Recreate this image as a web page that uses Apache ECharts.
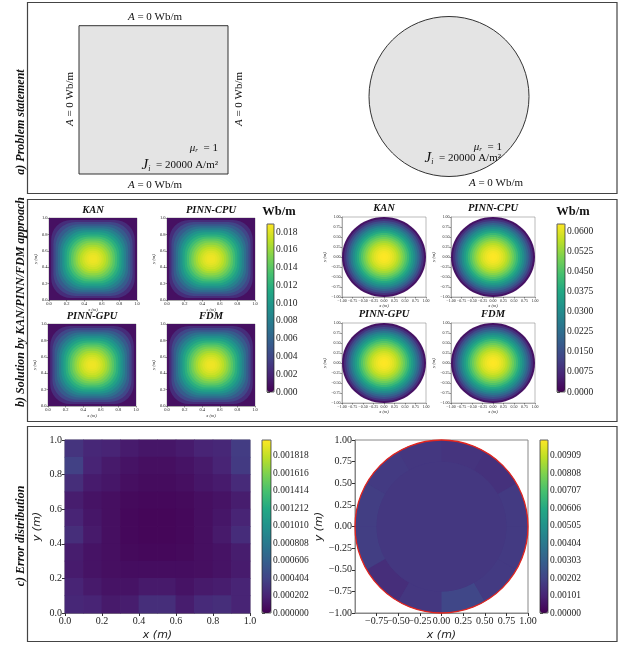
<!DOCTYPE html>
<html>
<head>
<meta charset="utf-8">
<script src="https://cdn.jsdelivr.net/npm/echarts@6/dist/echarts.min.js"></script>
<style>
  html, body { margin: 0; background: #fff; }
  #chart { width: 633px; height: 645px; }
</style>
</head>
<body>
<div id="chart"></div>
<script>
// ---- data ----
const methods = ['KAN', 'PINN-CPU', 'PINN-GPU', 'FDM'];

// square domain: nested contour bands (half size from centre, corner rounding, A inside) in m / Wb/m
const sqHalf = [0.5, 0.475, 0.45, 0.425, 0.4, 0.375, 0.35, 0.325, 0.3, 0.275, 0.25, 0.225, 0.2, 0.175, 0.15, 0.125, 0.1, 0.075, 0.05, 0.025];
const sqRound = [0, 0.24, 0.27, 0.28, 0.29, 0.285, 0.277, 0.267, 0.255, 0.242, 0.225, 0.209, 0.19, 0.17, 0.15, 0.125, 0.1, 0.075, 0.05, 0.025];
const sqPot = [0.00081, 0.00242, 0.00398, 0.00546, 0.0069, 0.00827, 0.00956, 0.01079, 0.01191, 0.01299, 0.01395, 0.01484, 0.01563, 0.01634, 0.01695, 0.01746, 0.01787, 0.01819, 0.01839, 0.01848];

// circular domain: nested discs (radius, A inside)
const ciRadius = [1, 0.95, 0.9, 0.85, 0.8, 0.75, 0.7, 0.65, 0.6, 0.55, 0.5, 0.45, 0.4, 0.35, 0.3, 0.25, 0.2, 0.15, 0.1, 0.05];
const ciPot = [0.0031, 0.00907, 0.01472, 0.02006, 0.02508, 0.02979, 0.03419, 0.03827, 0.04204, 0.04549, 0.04863, 0.05146, 0.05397, 0.05617, 0.05805, 0.05962, 0.06088, 0.06182, 0.06245, 0.06276];

// square error, 10x10 cells, rows listed top (y=0.95) to bottom (y=0.05)
const errCells = [0.05, 0.15, 0.25, 0.35, 0.45, 0.55, 0.65, 0.75, 0.85, 0.95];
const sqErr = [
  [0.0003, 0.00022, 0.0002, 0.00015, 0.00012, 0.00012, 0.00015, 0.0002, 0.00022, 0.00035],
  [0.00038, 0.0002, 0.00014, 0.0001, 0.00008, 0.00008, 0.0001, 0.00014, 0.0002, 0.00034],
  [0.00026, 0.00015, 0.00012, 0.00008, 0.00006, 0.00006, 0.00008, 0.00012, 0.00015, 0.00024],
  [0.00016, 0.0001, 0.00008, 0.00005, 0.00004, 0.00004, 0.00005, 0.00008, 0.0001, 0.00016],
  [0.0002, 0.00012, 0.00008, 0.00004, 0.00003, 0.00003, 0.00004, 0.00008, 0.00012, 0.0002],
  [0.00026, 0.00014, 0.00008, 0.00004, 0.00003, 0.00003, 0.00004, 0.00008, 0.00014, 0.00025],
  [0.00016, 0.0001, 0.00008, 0.00005, 0.00004, 0.00004, 0.00005, 0.00008, 0.0001, 0.00016],
  [0.00015, 0.0001, 0.00008, 0.00007, 0.00007, 0.00007, 0.00007, 0.00008, 0.0001, 0.00015],
  [0.0002, 0.00014, 0.0001, 0.0001, 0.00014, 0.00014, 0.0001, 0.00014, 0.00016, 0.0002],
  [0.00022, 0.0002, 0.00014, 0.00016, 0.00026, 0.00026, 0.00016, 0.00024, 0.00026, 0.0002]
];

// circular error: inner disc + 12 outer sectors (degrees, counter-clockwise from +x)
const ciErrRings = [0, 0.75, 1];
const ciErrInner = 0.0016;
const ciErrAngles = [0, 30, 60, 90, 120, 150, 180, 210, 240, 270, 300, 330, 360];
const ciErrOuter = [0.0017, 0.0014, 0.0015, 0.0016, 0.0017, 0.0018, 0.0018, 0.0013, 0.0016, 0.0021, 0.0017, 0.0017];

// tick labels
const sqTicks = [0, 0.2, 0.4, 0.6, 0.8, 1];
const ciTicks = [-1, -0.75, -0.5, -0.25, 0, 0.25, 0.5, 0.75, 1];
const sqSolTicks = [0, 0.002, 0.004, 0.006, 0.008, 0.01, 0.012, 0.014, 0.016, 0.018];
const ciSolTicks = [0, 0.0075, 0.015, 0.0225, 0.03, 0.0375, 0.045, 0.0525, 0.06];
const sqErrTicks = [0, 0.000202, 0.000404, 0.000606, 0.000808, 0.00101, 0.001212, 0.001414, 0.001616, 0.001818];
const ciErrTicks = [0, 0.00101, 0.00202, 0.00303, 0.00404, 0.00505, 0.00606, 0.00707, 0.00808, 0.00909];
const sqSolMax = 0.0189, ciSolMax = 0.0627, sqErrMax = 0.002, ciErrMax = 0.01;

// ---- drawing ----
const viridis = ['#440154', '#482475', '#414487', '#355f8d', '#2a788e', '#21918c', '#22a884', '#44bf70', '#7ad151', '#bddf26', '#fde725'];
const serif = 'Liberation Serif';
const sans = 'DejaVu Sans';

const chart = echarts.init(document.getElementById('chart'));

const grid = [], xAxis = [], yAxis = [], series = [], visualMap = [];

const fmt = d => v => (v < 0 ? '\u2212' : '') + Math.abs(v).toFixed(d);

function frame(box, ticks, dec, st) {
  const gi = grid.push({ left: box.left, top: box.top, width: box.width, height: box.height,
    show: true, borderColor: st.line, borderWidth: st.lw, backgroundColor: 'transparent' }) - 1;
  const ax = dim => ({
    gridIndex: gi, type: 'value', min: ticks[0], max: ticks[ticks.length - 1],
    name: dim + ' (m)', nameLocation: 'middle', nameGap: dim === 'x' ? st.xGap : st.yGap,
    nameTextStyle: { fontFamily: st.nameFont, fontStyle: 'italic', fontSize: st.nameSize, color: '#222' },
    axisLine: { show: true, onZero: false, lineStyle: { color: st.line, width: st.lw } },
    axisTick: { show: true, customValues: ticks, length: st.tick, lineStyle: { color: '#333', width: st.lw } },
    axisLabel: { show: true, customValues: ticks, formatter: fmt(dec), fontFamily: serif, fontSize: st.fs,
      color: '#222', margin: st.margin, hideOverlap: false },
    splitLine: { show: false }
  });
  xAxis.push(ax('x'));
  yAxis.push(ax('y'));
  return gi;
}

function renderSquare(params, api) {
  const h = api.value(0), rc = api.value(1);
  const a = api.coord([0.5 - h, 0.5 + h]);
  const s = api.size([2 * h, 2 * h]);
  const r = api.size([rc, rc]);
  return { type: 'rect', shape: { x: a[0], y: a[1], width: s[0], height: s[1], r: Math.min(r[0], r[1]) },
    style: { fill: api.visual('color') } };
}

function renderDisc(params, api) {
  const c = api.coord([0, 0]);
  const s = api.size([api.value(0), api.value(0)]);
  return { type: 'ellipse', shape: { cx: c[0], cy: c[1], rx: s[0], ry: s[1] }, style: { fill: api.visual('color') } };
}

const cellStep = errCells[1] - errCells[0];
function renderCell(params, api) {
  const a = api.coord([api.value(0) - cellStep / 2, api.value(1) + cellStep / 2]);
  const s = api.size([cellStep, cellStep]);
  // slight overlap hides anti-aliasing seams between neighbouring cells
  return { type: 'rect', shape: { x: a[0] - 0.4, y: a[1] - 0.4, width: s[0] + 0.8, height: s[1] + 0.8 },
    style: { fill: api.visual('color') } };
}

function renderSector(params, api) {
  const c = api.coord([0, 0]);
  const s = api.size([1, 1]);
  const R = Math.min(s[0], s[1]);
  return { type: 'sector', shape: { cx: c[0], cy: c[1], r0: api.value(0) * R, r: api.value(1) * R,
    startAngle: -api.value(3) * Math.PI / 180, endAngle: -api.value(2) * Math.PI / 180, clockwise: true },
    style: { fill: api.visual('color') } };
}

function renderOutline(params, api) {
  const c = api.coord([0, 0]);
  const s = api.size([1, 1]);
  return { type: 'circle', shape: { cx: c[0], cy: c[1], r: Math.min(s[0], s[1]) },
    style: { fill: 'none', stroke: '#e3261f', lineWidth: 1.3 } };
}

const smallStyle = { line: '#777', lw: 0.5, tick: 1.5, fs: 4.5, margin: 1.5, xGap: 6, yGap: 11, nameFont: serif, nameSize: 4.5 };
const smallCiStyle = Object.assign({}, smallStyle, { fs: 4, yGap: 12 });
const bigStyle = { line: '#888', lw: 1, tick: 3, fs: 10, margin: 3, xGap: 17, yGap: 22, nameFont: sans, nameSize: 11 };

const sqBoxes = [
  { left: 49, top: 218, width: 88, height: 82 }, { left: 167, top: 218, width: 88, height: 82 },
  { left: 48, top: 324, width: 88, height: 82 }, { left: 167, top: 324, width: 88, height: 82 }
];
const ciBoxes = [
  { left: 342, top: 217, width: 84, height: 80 }, { left: 451, top: 217, width: 84, height: 80 },
  { left: 342, top: 323, width: 84, height: 80 }, { left: 451, top: 323, width: 84, height: 80 }
];

const titles = [];
sqBoxes.forEach((b, k) => {
  const gi = frame(b, sqTicks, 1, smallStyle);
  series.push({ type: 'custom', xAxisIndex: gi, yAxisIndex: gi, silent: true, renderItem: renderSquare,
    encode: { x: 0, y: 1 }, data: sqHalf.map((h, i) => [h, sqRound[i], sqPot[i]]) });
  titles.push([b.left + b.width / 2, b.top - 8, methods[k]]);
});
ciBoxes.forEach((b, k) => {
  const gi = frame(b, ciTicks, 2, smallCiStyle);
  series.push({ type: 'custom', xAxisIndex: gi, yAxisIndex: gi, silent: true, renderItem: renderDisc,
    encode: { x: 0, y: 1 }, data: ciRadius.map((r, i) => [r, ciPot[i]]) });
  titles.push([b.left + b.width / 2, b.top - 9, methods[k]]);
});

// error plots
const gSqErr = frame({ left: 65, top: 440, width: 185, height: 173 }, sqTicks, 1, bigStyle);
const gCiErr = frame({ left: 355, top: 440, width: 173, height: 173 }, ciTicks, 2, Object.assign({}, bigStyle, { yGap: 30 }));

// series 8: square error cells
const cells = [];
sqErr.forEach((row, r) => row.forEach((v, c) => cells.push([errCells[c], errCells[sqErr.length - 1 - r], v])));
series.push({ type: 'custom', xAxisIndex: gSqErr, yAxisIndex: gSqErr, silent: true, renderItem: renderCell,
  encode: { x: 0, y: 1 }, data: cells });

// series 9: circular error (base disc, outer sectors, inner disc), series 10: boundary
const sect = [[0, ciErrRings[2], 0, 360, ciErrInner]];
ciErrOuter.forEach((v, i) => sect.push([ciErrRings[1], ciErrRings[2], ciErrAngles[i], ciErrAngles[i + 1], v]));
sect.push([ciErrRings[0], ciErrRings[1], 0, 360, ciErrInner]);
series.push({ type: 'custom', xAxisIndex: gCiErr, yAxisIndex: gCiErr, silent: true, renderItem: renderSector,
  encode: { x: 0, y: 1 }, data: sect });
series.push({ type: 'custom', xAxisIndex: gCiErr, yAxisIndex: gCiErr, silent: true, renderItem: renderOutline,
  encode: { x: 0, y: 0 }, data: [[1]] });

// colour bars
function colorbar(box, max, ticks, dec, seriesIndex, dimension) {
  const gi = grid.push({ left: box.left, top: box.top, width: box.width, height: box.height, show: true,
    borderColor: '#222', borderWidth: 0.7, backgroundColor: 'transparent', z: 6 }) - 1;
  xAxis.push({ gridIndex: gi, type: 'value', show: false, min: 0, max: 1 });
  yAxis.push({ gridIndex: gi, type: 'value', position: 'right', min: 0, max: max,
    axisLine: { show: false },
    axisTick: { show: true, customValues: ticks, length: 3, lineStyle: { color: '#222', width: 0.7 } },
    axisLabel: { customValues: ticks, formatter: fmt(dec), fontFamily: serif, fontSize: 9.5, color: '#222', margin: 2 },
    splitLine: { show: false } });
  visualMap.push({ type: 'continuous', seriesIndex: seriesIndex, dimension: dimension, min: 0, max: max,
    calculable: false, hoverLink: false, left: box.left, top: box.top, itemWidth: box.width, itemHeight: box.height,
    padding: 0, inRange: { color: viridis } });
}
colorbar({ left: 267, top: 224, width: 7, height: 168 }, sqSolMax, sqSolTicks, 3, [0, 1, 2, 3], 2);
colorbar({ left: 557, top: 224, width: 8, height: 168 }, ciSolMax, ciSolTicks, 4, [4, 5, 6, 7], 1);
colorbar({ left: 262, top: 440, width: 9, height: 173 }, sqErrMax, sqErrTicks, 6, [8], 2);
colorbar({ left: 540, top: 440, width: 8, height: 173 }, ciErrMax, ciErrTicks, 5, [9], 4);

// ---- annotations ----
function txt(x, y, text, size, o) {
  o = o || {};
  return { type: 'text', x: x, y: y, rotation: o.rot || 0, silent: true,
    style: { text: text, fontFamily: serif, fontSize: size, fontWeight: o.weight || 'normal',
      fontStyle: o.italic ? 'italic' : 'normal', fill: '#111', align: o.align || 'center',
      verticalAlign: 'middle', rich: o.rich } };
}
const italicA = { i: { fontFamily: serif, fontStyle: 'italic', fontSize: 11 } };
const muRich = { mu: { fontFamily: serif, fontStyle: 'italic', fontSize: 11 },
  sub: { fontFamily: serif, fontStyle: 'italic', fontSize: 7, verticalAlign: 'bottom', padding: [4, 0, 0, 0] } };
const jRich = { J: { fontFamily: serif, fontStyle: 'italic', fontSize: 15 },
  sub: { fontFamily: serif, fontStyle: 'italic', fontSize: 8, verticalAlign: 'bottom', padding: [5, 0, 0, 0] } };
const boundary = '{i|A} = 0 Wb/m';
const mu = '{mu|\u03bc}{sub|r}  = 1';
const jz = '{J|J}{sub|i}  = 20000 A/m\u00b2';

const graphic = [
  { type: 'rect', silent: true, shape: { x: 27.5, y: 2.5, width: 589.5, height: 191 }, style: { fill: 'none', stroke: '#444', lineWidth: 1.2 } },
  { type: 'rect', silent: true, shape: { x: 27.5, y: 199.5, width: 589.5, height: 222 }, style: { fill: 'none', stroke: '#444', lineWidth: 1.2 } },
  { type: 'rect', silent: true, shape: { x: 27.5, y: 426.5, width: 589.5, height: 215 }, style: { fill: 'none', stroke: '#444', lineWidth: 1.2 } },
  txt(21, 122, 'a) Problem statement', 12, { rot: Math.PI / 2, weight: 'bold', italic: true }),
  txt(21, 302, 'b) Solution by KAN/PINN/FDM approach', 12, { rot: Math.PI / 2, weight: 'bold', italic: true }),
  txt(21, 536, 'c) Error distribution', 12, { rot: Math.PI / 2, weight: 'bold', italic: true }),
  // problem statement sketches
  { type: 'rect', silent: true, shape: { x: 79, y: 25.7, width: 149, height: 148.3 }, style: { fill: '#e4e4e4', stroke: '#333', lineWidth: 1 } },
  { type: 'circle', silent: true, shape: { cx: 449, cy: 96.5, r: 80 }, style: { fill: '#e4e4e4', stroke: '#333', lineWidth: 1 } },
  txt(155, 17, boundary, 11, { rich: italicA }),
  txt(155, 185, boundary, 11, { rich: italicA }),
  txt(70.5, 99, boundary, 11, { rich: italicA, rot: Math.PI / 2 }),
  txt(239, 99, boundary, 11, { rich: italicA, rot: Math.PI / 2 }),
  txt(218, 148, mu, 11, { rich: muRich, align: 'right' }),
  txt(218, 165, jz, 11, { rich: jRich, align: 'right' }),
  txt(502, 147, mu, 11, { rich: muRich, align: 'right' }),
  txt(501, 158, jz, 11, { rich: jRich, align: 'right' }),
  txt(496, 183, boundary, 11, { rich: italicA }),
  // unit headers
  txt(279, 212, 'Wb/m', 12.5, { weight: 'bold' }),
  txt(573, 212, 'Wb/m', 12.5, { weight: 'bold' })
];
titles.forEach(t => graphic.push(txt(t[0], t[1], t[2], 10.5, { weight: 'bold', italic: true })));

chart.setOption({
  animation: false,
  backgroundColor: '#fff',
  grid: grid,
  xAxis: xAxis,
  yAxis: yAxis,
  visualMap: visualMap,
  series: series,
  graphic: graphic
});
</script>
</body>
</html>
